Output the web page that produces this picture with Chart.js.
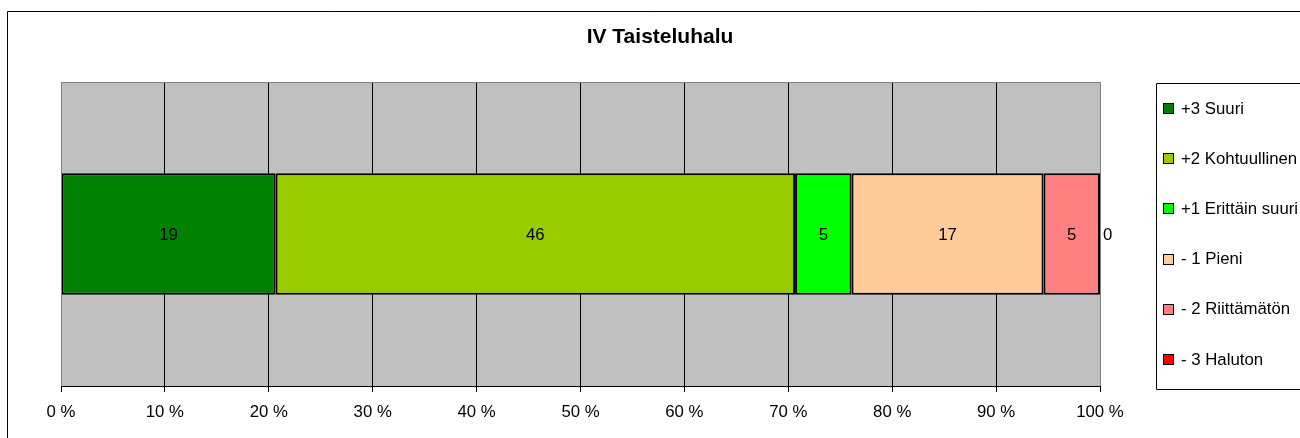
<!DOCTYPE html>
<html>
<head>
<meta charset="utf-8">
<script src="https://cdn.jsdelivr.net/npm/chart.js@4/dist/chart.umd.min.js"></script>
<style>
  html, body { margin: 0; padding: 0; background: #fff; }
  #wrap { position: relative; width: 1300px; height: 438px; }
</style>
</head>
<body>
<div id="wrap"><canvas id="c" width="1300" height="438"></canvas></div>
<script>
const chartTitle = 'IV Taisteluhalu';
const categories = [''];
const seriesLabels = ['+3 Suuri', '+2 Kohtuullinen', '+1 Erittäin suuri', '- 1 Pieni', '- 2 Riittämätön', '- 3 Haluton'];
const seriesValues = [19, 46, 5, 17, 5, 0];
const seriesColors = ['#008000', '#99CC00', '#00FF00', '#FFCC99', '#FF8080', '#FF0000'];
const tickValues = [0, 10, 20, 30, 40, 50, 60, 70, 80, 90, 100];

const FONT = '"Liberation Sans", Arial, sans-serif';
const FS = 16.8;
const total = seriesValues.reduce((a, b) => a + b, 0);

const datasets = seriesLabels.map((lab, i) => ({
  label: lab,
  data: [seriesValues[i] / total * 100],
  raw: seriesValues[i],
  backgroundColor: seriesColors[i],
  borderColor: '#000',
  borderWidth: 2,
  borderSkipped: false,
  barPercentage: 0.4,
  categoryPercentage: 1
}));

const decor = {
  id: 'decor',
  beforeDraw(chart) {
    const ctx = chart.ctx, a = chart.chartArea;
    ctx.save();
    ctx.fillStyle = '#fff';
    ctx.fillRect(0, 0, chart.width, chart.height);
    ctx.fillStyle = '#C0C0C0';
    ctx.fillRect(a.left, a.top, a.right - a.left, a.bottom - a.top);
    ctx.restore();
  },
  afterDatasetsDraw(chart) {
    const ctx = chart.ctx, a = chart.chartArea;
    ctx.save();
    // plot border (gray)
    ctx.strokeStyle = '#808080';
    ctx.lineWidth = 1;
    ctx.beginPath();
    ctx.moveTo(Math.round(a.left) + 0.5, Math.round(a.bottom));
    ctx.lineTo(Math.round(a.left) + 0.5, Math.round(a.top) + 0.5);
    ctx.lineTo(Math.round(a.right) + 0.5, Math.round(a.top) + 0.5);
    ctx.lineTo(Math.round(a.right) + 0.5, Math.round(a.bottom));
    ctx.stroke();
    // bottom axis
    ctx.strokeStyle = '#000';
    ctx.beginPath();
    ctx.moveTo(Math.round(a.left), Math.round(a.bottom) + 0.5);
    ctx.lineTo(Math.round(a.right) + 1, Math.round(a.bottom) + 0.5);
    ctx.stroke();

    // data labels
    ctx.font = FS + 'px ' + FONT;
    ctx.fillStyle = '#000';
    ctx.textBaseline = 'middle';
    chart.data.datasets.forEach((ds, i) => {
      const el = chart.getDatasetMeta(i).data[0];
      if (!el) return;
      const v = ds.raw;
      if (v === 0) {
        ctx.textAlign = 'left';
        ctx.fillText(String(v), el.x + 3, el.y + 1);
      } else {
        ctx.textAlign = 'center';
        ctx.fillText(String(v), (el.x + el.base) / 2, el.y + 1);
      }
    });

    // title
    ctx.font = 'bold 21px ' + FONT;
    ctx.textAlign = 'center';
    ctx.textBaseline = 'middle';
    ctx.fillText(chartTitle, 660, 37);

    // outer frame
    ctx.strokeStyle = '#000';
    ctx.lineWidth = 1;
    ctx.beginPath();
    ctx.moveTo(7.5, chart.height);
    ctx.lineTo(7.5, 11.5);
    ctx.lineTo(chart.width, 11.5);
    ctx.stroke();

    // legend
    const lx = 1156.5, ly = 83.5, lb = 389.5;
    ctx.strokeStyle = '#000';
    ctx.beginPath();
    ctx.moveTo(chart.width + 2, ly);
    ctx.lineTo(lx, ly);
    ctx.lineTo(lx, lb);
    ctx.lineTo(chart.width + 2, lb);
    ctx.stroke();
    ctx.font = FS + 'px ' + FONT;
    ctx.textAlign = 'left';
    ctx.textBaseline = 'middle';
    chart.data.datasets.forEach((ds, i) => {
      const cy = 108 + i * 50.2;
      ctx.fillStyle = ds.backgroundColor;
      ctx.fillRect(1164, Math.round(cy) - 4, 9, 9);
      ctx.strokeStyle = '#000';
      ctx.strokeRect(1163.5, Math.round(cy) - 4.5, 10, 10);
      ctx.fillStyle = '#000';
      ctx.fillText(ds.label, 1181, cy + 1);
    });
    ctx.restore();
  }
};

new Chart(document.getElementById('c'), {
  type: 'bar',
  data: { labels: categories, datasets },
  options: {
    responsive: false,
    animation: false,
    indexAxis: 'y',
    layout: { padding: { left: 61, right: 200, top: 82, bottom: 0 } },
    plugins: { legend: { display: false }, title: { display: false }, tooltip: { enabled: false } },
    scales: {
      x: {
        stacked: true,
        min: 0, max: 100,
        afterBuildTicks(scale) { scale.ticks = tickValues.map(v => ({ value: v })); },
        afterFit(scale) { scale.height = 52; },
        ticks: {
          autoSkip: false,
          maxRotation: 0,
          color: '#000',
          padding: 10,
          font: { family: FONT, size: FS },
          callback: v => v + ' %'
        },
        grid: {
          color: c => (c.tick && (c.tick.value === 0 || c.tick.value === 100)) ? 'rgba(0,0,0,0)' : '#000',
          tickColor: '#000',
          tickLength: 6,
          lineWidth: 1,
          drawOnChartArea: true
        },
        border: { display: false }
      },
      y: {
        stacked: true,
        display: false
      }
    }
  },
  plugins: [decor]
});
</script>
</body>
</html>
